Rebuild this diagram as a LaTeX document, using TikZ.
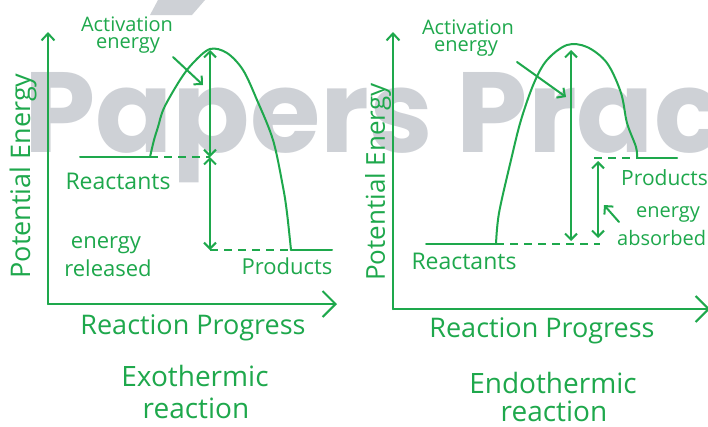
\documentclass[tikz,border=0pt]{standalone}
\usepackage{fontspec}
\setmainfont{Open Sans}
\newfontfamily\wmfont{Poppins}
\usetikzlibrary{arrows.meta}
\definecolor{gr}{RGB}{30,168,76}
\definecolor{wm}{RGB}{206,209,214}
\begin{document}
\begin{tikzpicture}[x=1pt,y=-1pt,
  ln/.style={draw=gr,line width=2pt,line cap=round,line join=round},
  dsh/.style={draw=gr,line width=2pt,dash pattern=on 8pt off 6pt},
  >={Straight Barb[length=6pt,width=12pt]},
  lbl/.style={text=gr,inner sep=0pt,font=\fontsize{#1}{#1}\selectfont},
]
\clip (0,0) rectangle (708,426);
\fill[white] (0,0) rectangle (708,426);
% watermark
\node[anchor=base west,inner sep=0pt,text=wm,font=\wmfont\bfseries\fontsize{114}{114}\selectfont] (wmk) at (24,152) {Papers Prac};
\fill[wm] (158,0) -- (205,0) -- (192,15) -- (150,15) -- cycle;

% ---------------- left: exothermic
\coordinate (LO) at (48,304);
\coordinate (LY) at (48,32);
\coordinate (LX) at (337,304);
\draw[ln,-{Straight Barb[length=7pt,width=13pt]}] (LO) -- (LY);
\draw[ln,-{Straight Barb[length=13pt,width=26pt]}] (LO) -- (LX);
\coordinate (LR0) at (80,157);
\coordinate (LR1) at (150,157);
\coordinate (LRx) at (210,157);
\coordinate (LPk) at (210,50);
\coordinate (LPx) at (210,250);
\coordinate (LP0) at (291,250);
\coordinate (LP1) at (332,250);
\draw[ln] (LR0) -- (LR1);
\draw[dsh] (LR1) -- (LRx);
\draw[dsh] (LPx) -- (LP0);
\draw[ln] (LP0) -- (LP1);
\draw[ln] plot[smooth,tension=0.55] coordinates {(150,157) (154,140) (158,127) (164,108) (180,80) (193,63) (210,49) (227,53) (243,70) (257,100) (273,140) (283,187) (287,213) (291,250)};
\draw[ln,<->] (LPk) -- (LRx);
\draw[ln,<->] (LRx) -- (LPx);
\node[lbl=20] (LA1) at (127,24) {Activation};
\node[lbl=20] (LA2) at (128,45) {energy};
\coordinate (LAe) at (203,85);
\draw[ln,->] (173,57) -- (LAe);
\node[lbl=23] (LRt) at (118,181) {Reactants};
\node[lbl=22] (LE1) at (106,245) {energy};
\node[lbl=22] (LE2) at (108,268) {released};
\node[lbl=22] (LPt) at (287,266) {Products};
\node[lbl=27] (LRP) at (193,328) {Reaction Progress};
\node[lbl=28] (LT1) at (195,376) {Exothermic};
\node[lbl=28] (LT2) at (196,408) {reaction};
\node[lbl=27,rotate=90] (LPE) at (23,176) {Potential Energy};

% ---------------- right: endothermic
\coordinate (RO) at (393,309);
\coordinate (RY) at (393,32);
\coordinate (RX) at (710,309);
\draw[ln,-{Straight Barb[length=7pt,width=13pt]}] (RO) -- (RY);
\draw[ln,-{Straight Barb[length=13pt,width=26pt]}] (RO) -- (RX);
\coordinate (RR0) at (426,244);
\coordinate (RR1) at (496,244);
\coordinate (RRx) at (600,244);
\coordinate (RP0) at (594,158);
\coordinate (RP1) at (637,158);
\coordinate (RP2) at (677,158);
\draw[ln] (RR0) -- (RR1);
\draw[dsh] (RR1) -- (RRx);
\draw[dsh] (RP0) -- (RP1);
\draw[ln] (RP1) -- (RP2);
\draw[ln] plot[smooth,tension=0.55] coordinates {(496,244) (499,213) (511,160) (521,120) (534,83) (547,60) (567,45) (587,47) (607,63) (621,93) (627,123) (636,147) (637,158)};
\coordinate (RAt) at (571,50);
\coordinate (RAb) at (571,241);
\draw[ln,<->] (RAt) -- (RAb);
\coordinate (RBt) at (598,161);
\coordinate (RBb) at (598,238);
\draw[ln,<->] (RBt) -- (RBb);
\node[lbl=20] (RA1) at (468,27) {Activation};
\node[lbl=20] (RA2) at (466,48) {energy};
\coordinate (RAe) at (566,97);
\draw[ln,->] (517,62) -- (RAe);
\node[lbl=23] (RRt) at (464,261) {Reactants};
\node[lbl=21,anchor=west] (RPt) at (621,178) {Products};
\node[lbl=20] (RE1) at (668,214) {energy};
\node[lbl=20,anchor=west] (RE2) at (617,238) {absorbed};
\coordinate (REe) at (604,205);
\draw[ln,->] (619,222) -- (REe);
\node[lbl=27] (RRP) at (542,331) {Reaction Progress};
\node[lbl=28] (RT1) at (553,383) {Endothermic};
\node[lbl=28] (RT2) at (554,411) {reaction};
\node[lbl=26,rotate=90] (RPE) at (378,182) {Potential Energy};
\end{tikzpicture}
\end{document}
